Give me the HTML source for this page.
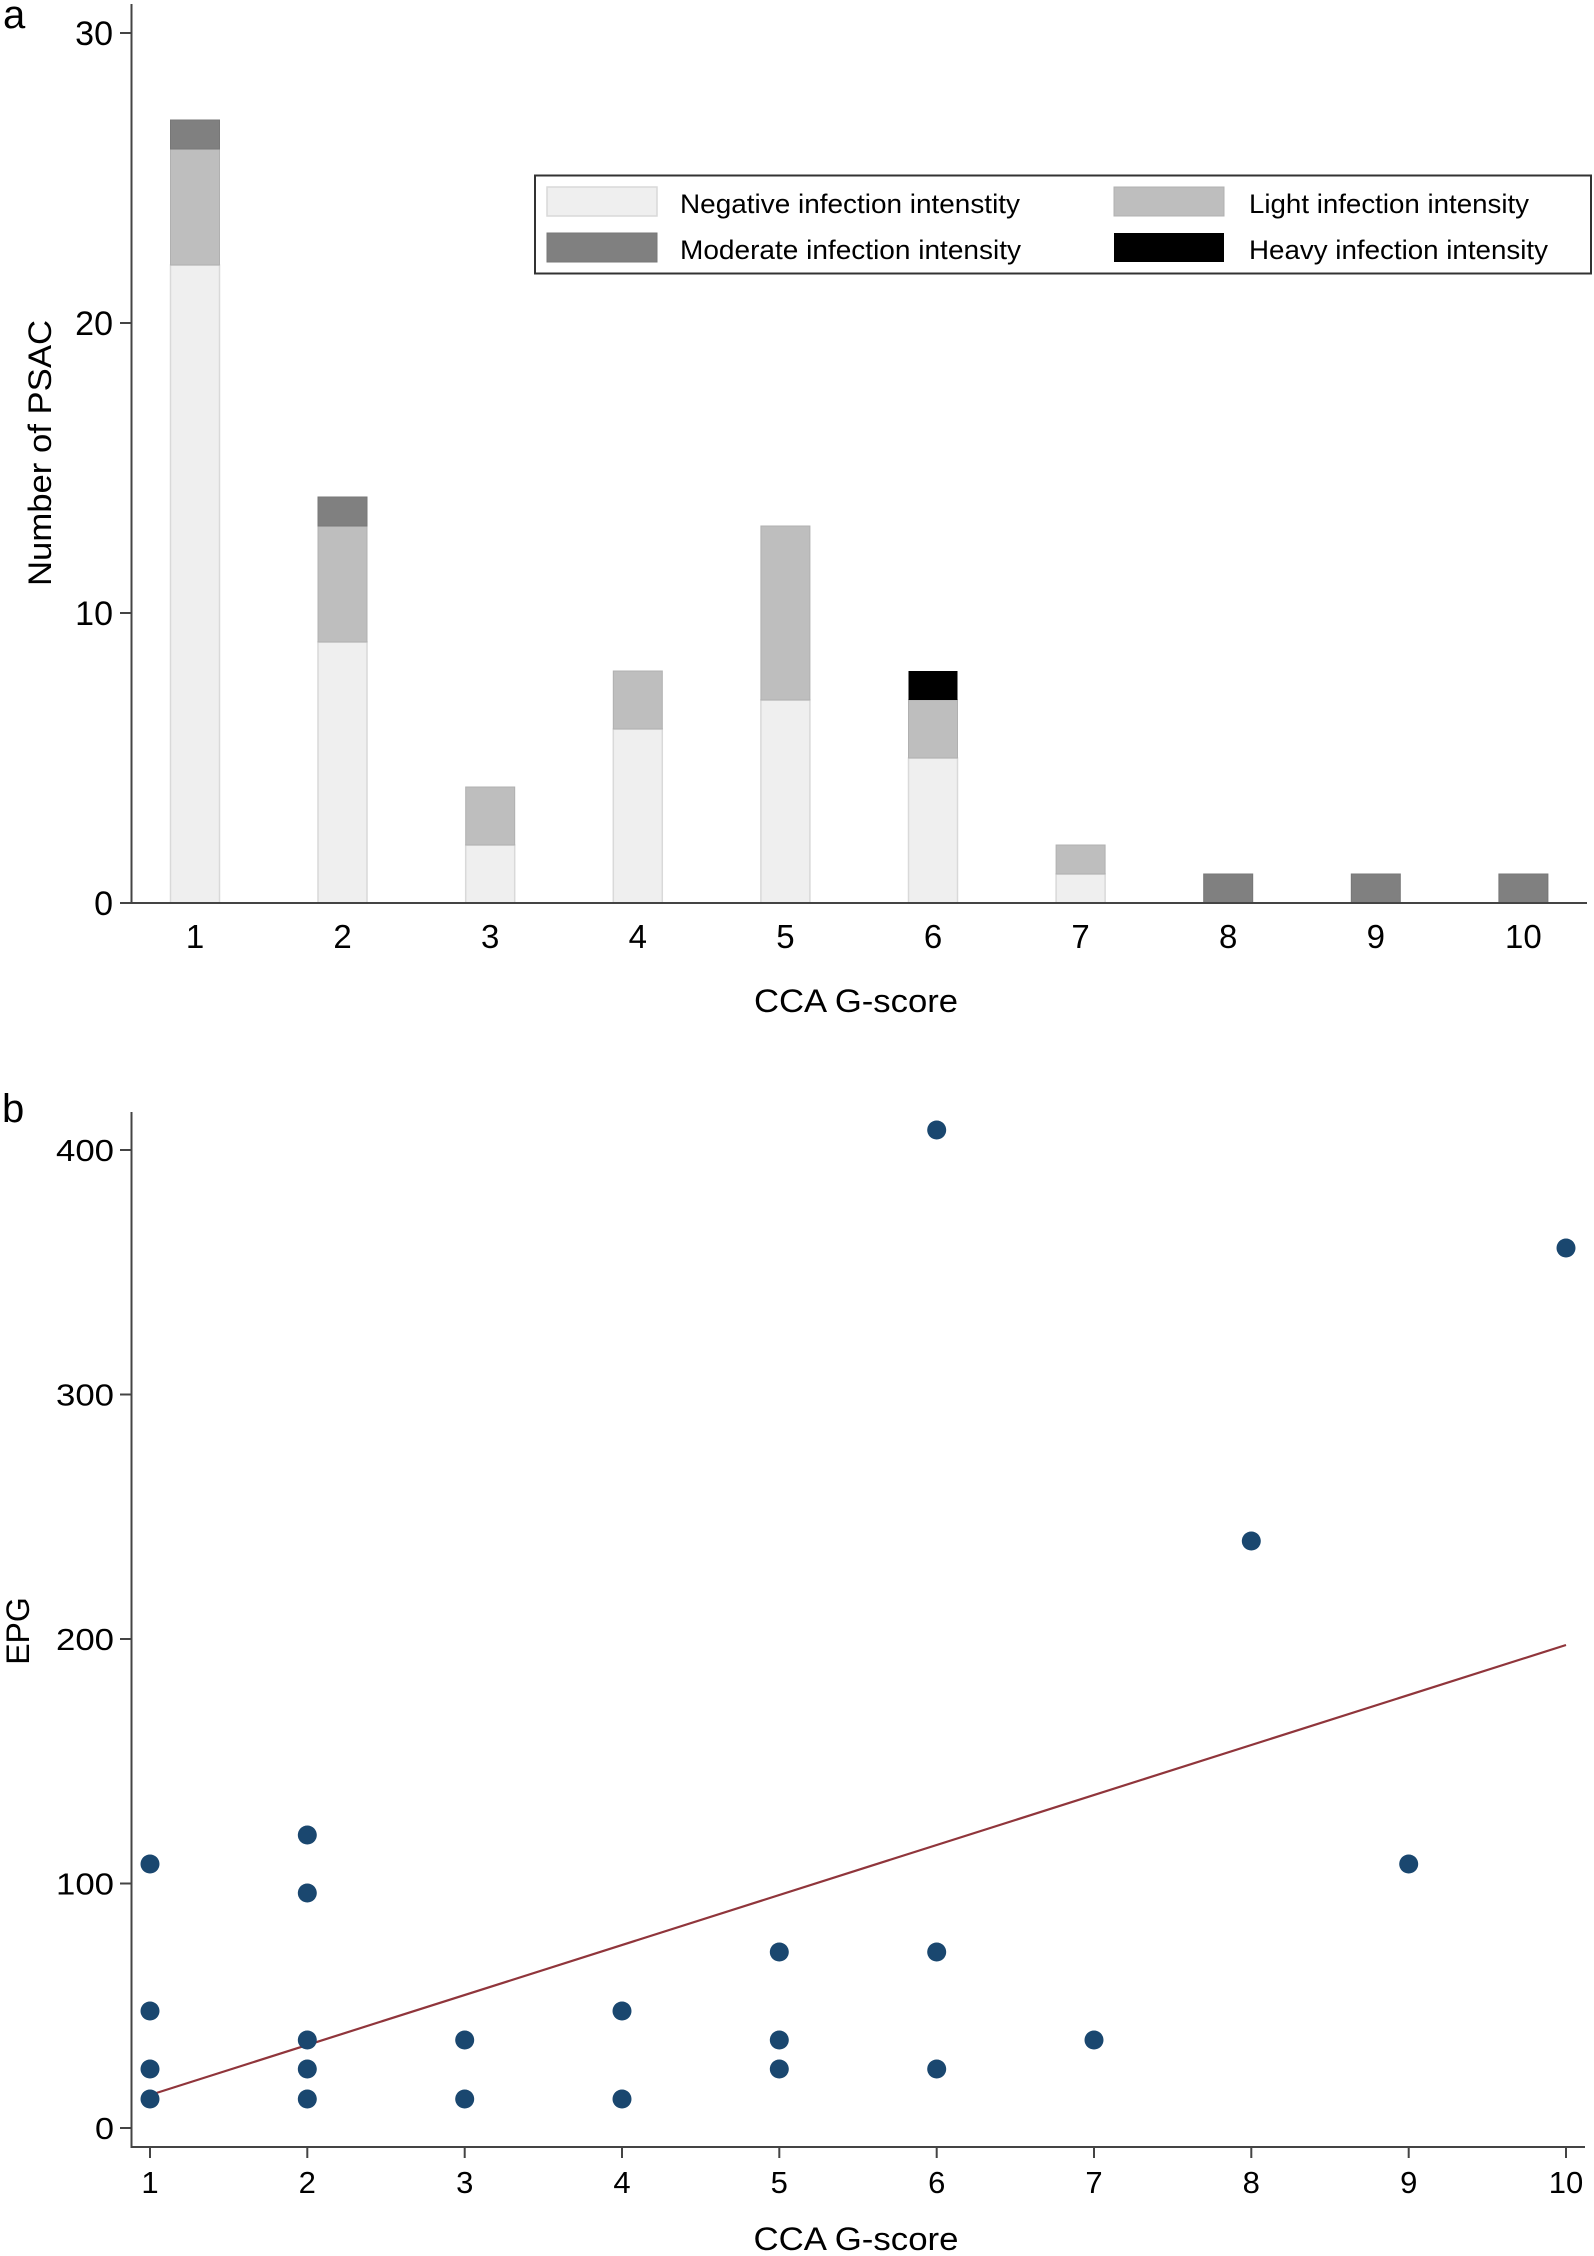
<!DOCTYPE html>
<html><head><meta charset="utf-8"><style>
html,body{margin:0;padding:0;background:#fff;}
svg{display:block;font-family:"Liberation Sans",sans-serif;}
</style></head><body>
<svg width="1594" height="2256" viewBox="0 0 1594 2256" xmlns="http://www.w3.org/2000/svg">
<rect width="1594" height="2256" fill="#fff"/>
<!-- Panel a -->
<text x="3" y="28" font-size="40">a</text>
<g id="bars">
<rect x="170.5" y="265" width="49" height="638" fill="#efefef" stroke="#d9d9d9" stroke-width="1.5"/>
<rect x="170.5" y="149" width="49" height="116" fill="#bebebe" stroke="#b0b0b0" stroke-width="1"/>
<rect x="170.5" y="120" width="49" height="29" fill="#808080" stroke="#777" stroke-width="1"/>
<rect x="318" y="642" width="49" height="261" fill="#efefef" stroke="#d9d9d9" stroke-width="1.5"/>
<rect x="318" y="526" width="49" height="116" fill="#bebebe" stroke="#b0b0b0" stroke-width="1"/>
<rect x="318" y="497" width="49" height="29" fill="#808080" stroke="#777" stroke-width="1"/>
<rect x="465.7" y="845" width="49" height="58" fill="#efefef" stroke="#d9d9d9" stroke-width="1.5"/>
<rect x="465.7" y="787" width="49" height="58" fill="#bebebe" stroke="#b0b0b0" stroke-width="1"/>
<rect x="613.3" y="729" width="49" height="174" fill="#efefef" stroke="#d9d9d9" stroke-width="1.5"/>
<rect x="613.3" y="671" width="49" height="58" fill="#bebebe" stroke="#b0b0b0" stroke-width="1"/>
<rect x="760.9" y="700" width="49" height="203" fill="#efefef" stroke="#d9d9d9" stroke-width="1.5"/>
<rect x="760.9" y="526" width="49" height="174" fill="#bebebe" stroke="#b0b0b0" stroke-width="1"/>
<rect x="908.5" y="758" width="49" height="145" fill="#efefef" stroke="#d9d9d9" stroke-width="1.5"/>
<rect x="908.5" y="700" width="49" height="58" fill="#bebebe" stroke="#b0b0b0" stroke-width="1"/>
<rect x="908.5" y="671" width="49" height="29" fill="#000"/>
<rect x="1056.1" y="874" width="49" height="29" fill="#efefef" stroke="#d9d9d9" stroke-width="1.5"/>
<rect x="1056.1" y="845" width="49" height="29" fill="#bebebe" stroke="#b0b0b0" stroke-width="1"/>
<rect x="1203.7" y="874" width="49" height="29" fill="#808080" stroke="#777" stroke-width="1"/>
<rect x="1351.3" y="874" width="49" height="29" fill="#808080" stroke="#777" stroke-width="1"/>
<rect x="1498.9" y="874" width="49" height="29" fill="#808080" stroke="#777" stroke-width="1"/>
</g>
<g stroke="#444" stroke-width="2" fill="none">
<line x1="131.5" y1="4" x2="131.5" y2="904"/>
<line x1="131" y1="903" x2="1587" y2="903"/>
<line x1="120" y1="903" x2="131" y2="903"/>
<line x1="120" y1="613" x2="131" y2="613"/>
<line x1="120" y1="323" x2="131" y2="323"/>
<line x1="120" y1="33" x2="131" y2="33"/>
</g>
<g font-size="34" text-anchor="end">
<text x="113" y="915">0</text>
<text x="113" y="625">10</text>
<text x="113" y="335">20</text>
<text x="113" y="45">30</text>
</g>
<g font-size="33" text-anchor="middle">
<text x="195" y="948">1</text>
<text x="342.6" y="948">2</text>
<text x="490.2" y="948">3</text>
<text x="637.8" y="948">4</text>
<text x="785.4" y="948">5</text>
<text x="933" y="948">6</text>
<text x="1080.6" y="948">7</text>
<text x="1228.2" y="948">8</text>
<text x="1375.8" y="948">9</text>
<text x="1523.4" y="948">10</text>
</g>
<text x="856" y="1012" font-size="32" text-anchor="middle" textLength="204" lengthAdjust="spacingAndGlyphs">CCA G-score</text>
<text transform="translate(51,453) rotate(-90)" font-size="32" text-anchor="middle" textLength="266" lengthAdjust="spacingAndGlyphs">Number of PSAC</text>
<rect x="535" y="175.5" width="1056" height="98" fill="#fff" stroke="#333" stroke-width="2"/>
<rect x="547" y="187" width="110" height="29" fill="#efefef" stroke="#d9d9d9" stroke-width="1.5"/>
<rect x="547" y="233" width="110" height="29" fill="#808080" stroke="#777" stroke-width="1"/>
<rect x="1114" y="187" width="110" height="29" fill="#bebebe" stroke="#b0b0b0" stroke-width="1"/>
<rect x="1114" y="233" width="110" height="29" fill="#000"/>
<g font-size="27">
<text x="680" y="213" textLength="340" lengthAdjust="spacingAndGlyphs">Negative infection intenstity</text>
<text x="680" y="259" textLength="341" lengthAdjust="spacingAndGlyphs">Moderate infection intensity</text>
<text x="1249" y="213" textLength="280" lengthAdjust="spacingAndGlyphs">Light infection intensity</text>
<text x="1249" y="259" textLength="299" lengthAdjust="spacingAndGlyphs">Heavy infection intensity</text>
</g>

<!-- Panel b -->
<text x="2" y="1122" font-size="40">b</text>
<g stroke="#444" stroke-width="2" fill="none">
<line x1="131.5" y1="1112" x2="131.5" y2="2148"/>
<line x1="131" y1="2147" x2="1585" y2="2147"/>
<line x1="120" y1="2128" x2="131" y2="2128"/>
<line x1="120" y1="1883.5" x2="131" y2="1883.5"/>
<line x1="120" y1="1639" x2="131" y2="1639"/>
<line x1="120" y1="1394.5" x2="131" y2="1394.5"/>
<line x1="120" y1="1150" x2="131" y2="1150"/>
<line x1="150" y1="2147" x2="150" y2="2158"/>
<line x1="307.3" y1="2147" x2="307.3" y2="2158"/>
<line x1="464.7" y1="2147" x2="464.7" y2="2158"/>
<line x1="622" y1="2147" x2="622" y2="2158"/>
<line x1="779.3" y1="2147" x2="779.3" y2="2158"/>
<line x1="936.7" y1="2147" x2="936.7" y2="2158"/>
<line x1="1094" y1="2147" x2="1094" y2="2158"/>
<line x1="1251.3" y1="2147" x2="1251.3" y2="2158"/>
<line x1="1408.7" y1="2147" x2="1408.7" y2="2158"/>
<line x1="1566" y1="2147" x2="1566" y2="2158"/>
</g>
<g font-size="31" text-anchor="end">
<text x="114" y="2139" textLength="19" lengthAdjust="spacingAndGlyphs">0</text>
<text x="114" y="1894.5" textLength="58" lengthAdjust="spacingAndGlyphs">100</text>
<text x="114" y="1650" textLength="58" lengthAdjust="spacingAndGlyphs">200</text>
<text x="114" y="1405.5" textLength="58" lengthAdjust="spacingAndGlyphs">300</text>
<text x="114" y="1161" textLength="58" lengthAdjust="spacingAndGlyphs">400</text>
</g>
<g font-size="31" text-anchor="middle">
<text x="150" y="2193">1</text>
<text x="307.3" y="2193">2</text>
<text x="464.7" y="2193">3</text>
<text x="622" y="2193">4</text>
<text x="779.3" y="2193">5</text>
<text x="936.7" y="2193">6</text>
<text x="1094" y="2193">7</text>
<text x="1251.3" y="2193">8</text>
<text x="1408.7" y="2193">9</text>
<text x="1566" y="2193">10</text>
</g>
<text x="856" y="2250" font-size="32" text-anchor="middle" textLength="205" lengthAdjust="spacingAndGlyphs">CCA G-score</text>
<text transform="translate(29,1631) rotate(-90)" font-size="32" text-anchor="middle">EPG</text>
<line x1="150" y1="2095" x2="1566" y2="1645" stroke="#90353b" stroke-width="2.2"/>
<g fill="#1a476f">
<circle cx="150" cy="1864" r="9.5"/>
<circle cx="150" cy="2011" r="9.5"/>
<circle cx="150" cy="2069" r="9.5"/>
<circle cx="150" cy="2099" r="9.5"/>
<circle cx="307.3" cy="1835" r="9.5"/>
<circle cx="307.3" cy="1893" r="9.5"/>
<circle cx="307.3" cy="2040" r="9.5"/>
<circle cx="307.3" cy="2069" r="9.5"/>
<circle cx="307.3" cy="2099" r="9.5"/>
<circle cx="464.7" cy="2040" r="9.5"/>
<circle cx="464.7" cy="2099" r="9.5"/>
<circle cx="622" cy="2011" r="9.5"/>
<circle cx="622" cy="2099" r="9.5"/>
<circle cx="779.3" cy="1952" r="9.5"/>
<circle cx="779.3" cy="2040" r="9.5"/>
<circle cx="779.3" cy="2069" r="9.5"/>
<circle cx="936.7" cy="1130" r="9.5"/>
<circle cx="936.7" cy="1952" r="9.5"/>
<circle cx="936.7" cy="2069" r="9.5"/>
<circle cx="1094" cy="2040" r="9.5"/>
<circle cx="1251.3" cy="1541" r="9.5"/>
<circle cx="1408.7" cy="1864" r="9.5"/>
<circle cx="1566" cy="1248" r="9.5"/>
</g>
</svg>
</body></html>
